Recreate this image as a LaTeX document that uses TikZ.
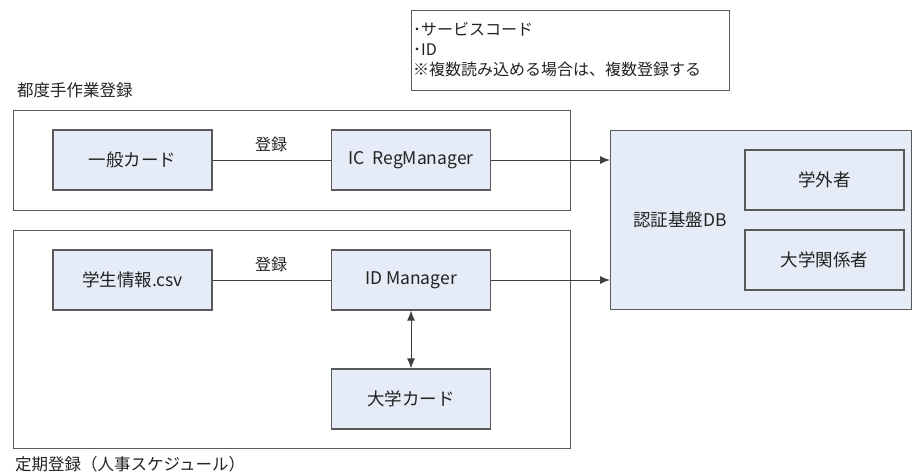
\documentclass[tikz,border=0pt]{standalone}
\usepackage{fontspec}
\setmainfont{Noto Sans CJK JP}
\usetikzlibrary{arrows.meta}
\definecolor{boxfill}{HTML}{E6ECF7}
\definecolor{boxline}{HTML}{5A5A5A}
\definecolor{txt}{HTML}{222222}
\tikzset{
  bluebox/.style={draw=boxline, fill=boxfill, line width=1.2pt, minimum width=159pt, minimum height=60pt, inner sep=0pt, font=\fontsize{17.5}{19}\selectfont, text=txt},
  grpbox/.style={draw=boxline, line width=1.2pt, inner sep=0pt, anchor=north west},
  conn/.style={draw=black!75, line width=1pt},
  arr/.style={conn, -{Latex[length=10pt,width=8pt]}},
  dblarr/.style={conn, {Latex[length=10pt,width=8pt]}-{Latex[length=10pt,width=8pt]}},
  lbl/.style={font=\fontsize{16}{17}\selectfont, text=txt, inner sep=0pt},
}
\begin{document}
\begin{tikzpicture}[x=1pt,y=-1pt]
\useasboundingbox (0,0) rectangle (912,475);
% note
\node[draw=boxline, line width=1.2pt, anchor=north west, minimum width=318pt, minimum height=80pt, inner sep=0pt] (note) at (411,10) {};
\node[lbl, anchor=west, align=left, font=\fontsize{16}{20}\selectfont] (notetext) at (413,50) {･サービスコード\\･ID\\※複数読み込める場合は、複数登録する};
% group 1
\node[lbl, anchor=west, font=\fontsize{16.5}{18}\selectfont] (g1label) at (17,90) {都度手作業登録};
\node[grpbox, minimum width=557pt, minimum height=100pt] (g1) at (12.5,110) {};
\node[bluebox] (card1) at (132.5,160) {一般カード};
\node[bluebox] (icreg) at (411,160) {IC\ \ RegManager};
\node[lbl] (reg1) at (271,144) {登録};
% group 2
\node[grpbox, minimum width=557pt, minimum height=218pt] (g2) at (12.5,230) {};
\node[lbl, anchor=west, font=\fontsize{16.5}{18}\selectfont] (g2label) at (15,464) {定期登録（人事スケジュール）};
\node[bluebox] (csv) at (132.5,280) {学生情報.csv};
\node[bluebox] (idm) at (411,280) {ID Manager};
\node[bluebox] (ucard) at (411,399) {大学カード};
\node[lbl] (reg2) at (271,264) {登録};
% DB
\node[bluebox, anchor=north west, minimum width=301pt, minimum height=179pt] (db) at (610,130) {};
\node[lbl, font=\fontsize{17.5}{19}\selectfont] (dblabel) at (680,220) {認証基盤DB};
\node[bluebox] (outside) at (824.5,180) {学外者};
\node[bluebox] (univ) at (824.5,260) {大学関係者};
% connectors
\draw[conn] (card1) -- (icreg);
\draw[conn] (csv) -- (idm);
\draw[arr] (icreg.east) -- (icreg.east -| db.west);
\draw[arr] (idm.east) -- (idm.east -| db.west);
\draw[dblarr] (idm) -- (ucard);
\end{tikzpicture}
\end{document}
